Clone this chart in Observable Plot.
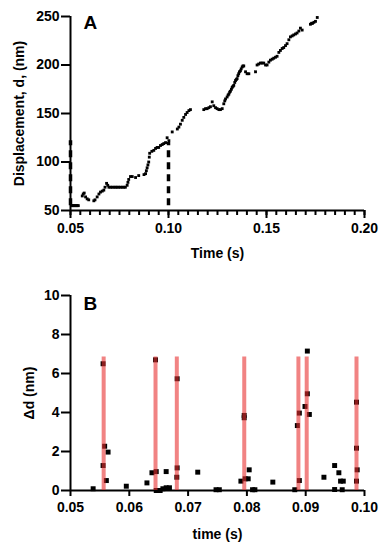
<!DOCTYPE html>
<html><head><meta charset="utf-8">
<script src="https://cdn.jsdelivr.net/npm/d3@7"></script>
<script src="https://cdn.jsdelivr.net/npm/@observablehq/plot@0.6"></script>
<style>
body{margin:0;background:#fff;}
#c svg{display:block;}
</style></head><body><div id="c"></div>
<script>
// ---------- Panel A data ----------
const timeA = [0.0505,0.0510,0.0515,0.0520,0.0525,0.0530,0.0535,0.0540,0.0560,0.0565,0.0570,0.0577,0.0585,0.0593,0.0619,0.0625,0.0636,0.0645,0.0653,0.0662,0.0670,0.0676,0.0684,0.0690,0.0696,0.0705,0.0713,0.0722,0.0730,0.0738,0.0746,0.0755,0.0764,0.0772,0.0780,0.0789,0.0793,0.0797,0.0806,0.0815,0.0832,0.0848,0.0875,0.0883,0.0887,0.0891,0.0895,0.0899,0.0902,0.0904,0.0915,0.0925,0.0934,0.0942,0.0950,0.0959,0.0968,0.0976,0.0985,0.0993,0.1002,0.1019,0.1045,0.1053,0.1061,0.1070,0.1078,0.1087,0.1095,0.1104,0.1112,0.1180,0.1189,0.1197,0.1206,0.1214,0.1223,0.1231,0.1240,0.1248,0.1257,0.1265,0.1274,0.1282,0.1287,0.1291,0.1299,0.1304,0.1308,0.1312,0.1316,0.1321,0.1325,0.1329,0.1333,0.1338,0.1342,0.1346,0.1350,0.1354,0.1358,0.1362,0.1367,0.1371,0.1376,0.1380,0.1384,0.1393,0.1401,0.1410,0.1444,0.1452,0.1460,0.1469,0.1477,0.1486,0.1495,0.1503,0.1512,0.1520,0.1529,0.1537,0.1546,0.1554,0.1563,0.1571,0.1580,0.1588,0.1597,0.1605,0.1614,0.1622,0.1631,0.1639,0.1648,0.1656,0.1665,0.1673,0.1682,0.1724,0.1730,0.1735,0.1742,0.1750,0.1759];
const dispA = [55,55,55,55,55,55,55,55,65,67,68,64,62,61,60,61,64,67,69,70,71,74,78,76,74,74,74,74,74,74,74,74,74,74,74,76,79,82,85,85,84,86,87,88,91,94,97,100,105,109,111,112,114,115,115,117,118,119,120,125,122,131,134,136,139,143,146,149,151,153,154,154,155,155,156,157,162,158,156,155,154,154,155,160,163,165,167,169,170,172,173,175,177,178,179,182,184,185,186,189,191,193,194,196,198,199,199,193,191,191,193,200,201,202,202,202,200,200,203,205,206,207,208,209,213,215,217,218,220,222,226,229,230,231,232,233,235,238,236,242,243,243,244,245,249];
const dashTimeA = [0.05, 0.10];
const dashTopA = [122, 120];
const dashBottomA = [55, 55];
const xTicksA = [0.05, 0.10, 0.15, 0.20];
const yTicksA = [50, 100, 150, 200, 250];
const xMinorA = d3.range(0, 31).map(i => 0.05 + i * 0.005);

// ---------- Panel B data ----------
const timeB = [0.05385,0.05554,0.05581,0.05554,0.05639,0.05610,0.05949,0.06300,0.06385,0.06458,0.06446,0.06458,0.06525,0.06571,0.06627,0.06683,0.06627,0.06814,0.06814,0.06808,0.07164,0.07475,0.07531,0.07898,0.07954,0.07954,0.07971,0.08022,0.08039,0.08096,0.08136,0.08441,0.08814,0.08858,0.08892,0.08892,0.08988,0.09028,0.09028,0.09062,0.09310,0.09492,0.09492,0.09564,0.09593,0.09639,0.09621,0.09864,0.09864,0.09876,0.09864];
const deltaB = [0.09,6.50,2.27,1.28,1.97,0.51,0.22,0.39,0.91,0.97,6.70,0.00,0.00,0.09,0.14,0.14,0.97,5.73,1.16,0.68,0.94,0.04,0.04,0.48,3.85,3.73,0.60,0.60,1.06,0.04,0.04,0.43,0.04,3.33,3.97,0.51,4.31,7.15,4.96,3.90,0.68,1.28,0.05,0.91,0.48,0.48,0.04,4.53,2.17,1.06,0.48];
const stepTimesB = [0.05564, 0.06446, 0.06808, 0.07955, 0.08876, 0.09017, 0.09864];
const stepTopB = 6.85;
const xTicksB = [0.05, 0.06, 0.07, 0.08, 0.09, 0.10];
const yTicksB = [0, 2, 4, 6, 8, 10];

const labelA = "A", labelB = "B";
const yTitleA = "Displacement, d, (nm)", xTitleA = "Time (s)";
const yTitleB = "Δd (nm)", xTitleB = "time (s)";

const font = {fontFamily: "'Liberation Sans', Arial, sans-serif", fontSize: "14px", fontWeight: "bold", color: "#000", background: "#fff"};
const ptsA = timeA.map((t, i) => ({t, d: dispA[i]}));
const dashA = dashTimeA.map((t, i) => ({t, y1: dashBottomA[i], y2: dashTopA[i]}));
const ptsB = timeB.map((t, i) => ({t, v: deltaB[i]}));

const A = Plot.plot({
  width: 385, height: 280,
  marginTop: 16, marginBottom: 70, marginLeft: 70, marginRight: 21,
  style: font,
  x: {domain: [0.05, 0.20]},
  y: {domain: [50, 250]},
  marks: [
    Plot.axisY({ticks: yTicksA, tickSize: 9, tickPadding: 2, strokeWidth: 2, label: null, tickFormat: d => String(d)}),
    Plot.axisX({ticks: xMinorA, tickSize: 5, strokeWidth: 2, label: null, tickFormat: () => ""}),
    Plot.axisX({ticks: xTicksA, tickSize: 8, tickPadding: 5, strokeWidth: 2, label: null, tickFormat: d => d.toFixed(2)}),
    Plot.ruleX([0.05], {strokeWidth: 2}),
    Plot.ruleY([50], {strokeWidth: 2}),
    Plot.ruleX(dashA, {x: "t", y1: "y1", y2: "y2", strokeWidth: 3.5, strokeDasharray: "7,5"}),
    Plot.dot(ptsA, {x: "t", y: "d", symbol: "square", r: 1.6, fill: "#000", stroke: "none"}),
    Plot.text([labelA], {text: d => d, frameAnchor: "top-left", dx: 13, dy: -1, fontSize: 19, fontWeight: "bold"}),
    Plot.text([yTitleA], {text: d => d, frameAnchor: "left", rotate: -90, dx: -51, textAnchor: "middle", lineAnchor: "middle"}),
    Plot.text([xTitleA], {text: d => d, frameAnchor: "bottom", dy: 43, textAnchor: "middle", lineAnchor: "middle"})
  ]
});

const B = Plot.plot({
  width: 385, height: 270,
  marginTop: 15, marginBottom: 60, marginLeft: 70, marginRight: 21,
  style: font,
  x: {domain: [0.05, 0.10]},
  y: {domain: [0, 10]},
  marks: [
    Plot.axisY({ticks: yTicksB, tickSize: 9, tickPadding: 2, strokeWidth: 2, label: null, tickFormat: d => String(d)}),
    Plot.axisX({ticks: xTicksB, tickSize: 6, tickPadding: 6, strokeWidth: 2, label: null, tickFormat: d => d.toFixed(2)}),
    Plot.ruleX([0.05], {strokeWidth: 2}),
    Plot.ruleY([0], {strokeWidth: 2}),
    Plot.dot(ptsB, {x: "t", y: "v", symbol: "square", r: 2.8, fill: "#000", stroke: "none"}),
    Plot.ruleX(stepTimesB, {x: d => d, y1: 0, y2: stepTopB, stroke: "#e83030", strokeOpacity: 0.6, strokeWidth: 4}),
    Plot.text([labelB], {text: d => d, frameAnchor: "top-left", dx: 13, dy: 1, fontSize: 19, fontWeight: "bold"}),
    Plot.text([yTitleB], {text: d => d, frameAnchor: "left", rotate: -90, dx: -41, textAnchor: "middle", lineAnchor: "middle"}),
    Plot.text([xTitleB], {text: d => d, frameAnchor: "bottom", dy: 44, textAnchor: "middle", lineAnchor: "middle"})
  ]
});

document.getElementById("c").append(A, B);
</script></body></html>
